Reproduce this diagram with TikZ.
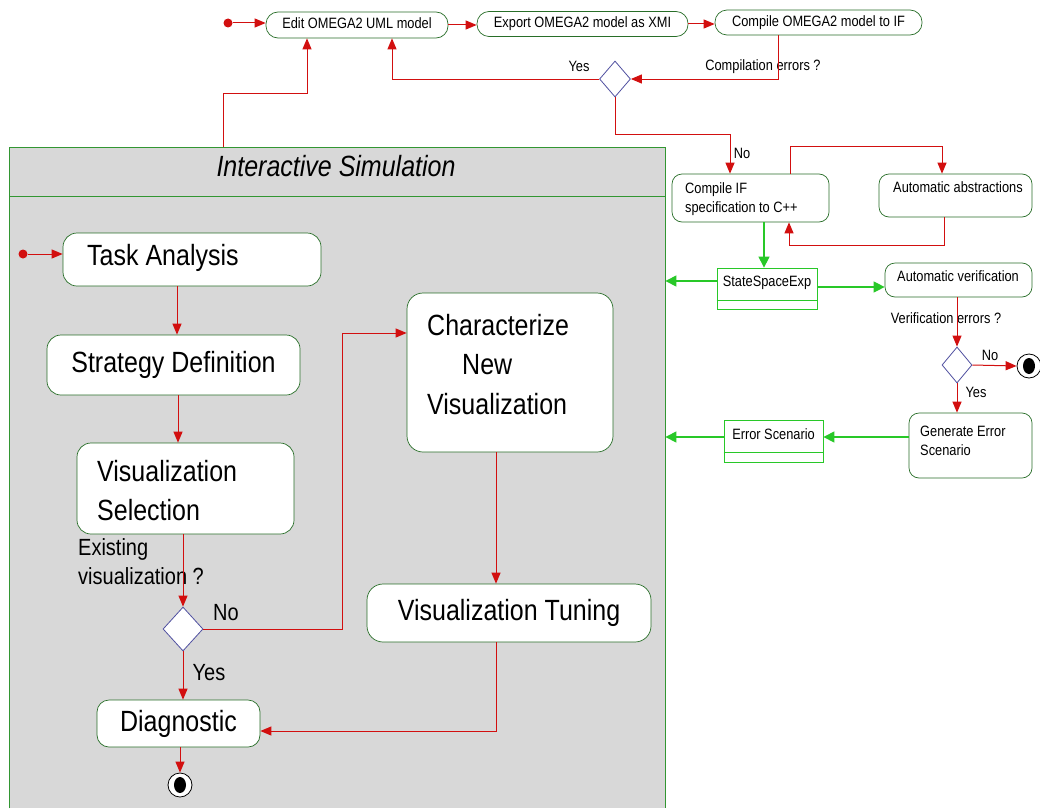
\documentclass[tikz,border=0pt]{standalone}
\usepackage{fontspec}
\setmainfont{Liberation Sans}
\usetikzlibrary{arrows.meta,shapes.geometric,calc}
\definecolor{lred}{RGB}{210,15,15}
\definecolor{bgreen}{RGB}{40,200,40}
\definecolor{dgreen}{RGB}{40,110,40}
\definecolor{simgreen}{RGB}{50,150,50}
\definecolor{simgray}{RGB}{216,216,216}
\definecolor{dblue}{RGB}{80,80,160}
\newcommand{\VS}[2][l]{\scalebox{1}[1.17]{\begin{tabular}{@{}#1@{}}#2\end{tabular}}}
\newcommand{\bigtxt}{\fontsize{25}{34}\selectfont}
\newcommand{\midtxt}{\fontsize{20}{25}\selectfont}
\newcommand{\smalltxt}{\fontsize{12.8}{17}\selectfont}
\begin{document}
\begin{tikzpicture}[x=1pt,y=-1pt,
  redline/.style={draw=lred, line width=1pt},
  rarr/.style={redline, -{Triangle[length=11pt,width=9pt]}},
  garr/.style={draw=bgreen, line width=1.2pt, -{Triangle[length=11pt,width=11pt]}},
  actbox/.style={draw=dgreen, fill=white, line width=0.7pt, inner sep=0pt, rounded corners=#1},
  actbox/.default=12pt,
  objbox/.style={draw=bgreen, fill=white, line width=0.8pt, inner sep=0pt},
  decision/.style={diamond, draw=dblue, fill=white, line width=0.8pt, inner sep=0pt},
  txt/.style={inner sep=0pt, text=black},
  sm/.style={txt, font=\smalltxt},
  md/.style={txt, font=\midtxt},
  bg/.style={txt, font=\bigtxt},
  startdot/.style={circle, fill=lred, inner sep=0pt, minimum size=9pt},
  enddot/.style={circle, draw=black, fill=white, line width=0.8pt, minimum size=24pt, inner sep=0pt,
    path picture={\fill[black] (path picture bounding box.center) ellipse (6pt and 8pt);}}
]
\useasboundingbox (0,0) rectangle (1040,808);
\fill[white] (0,0) rectangle (1040,808);

% ---------- Interactive Simulation container ----------
\node[fill=simgray, inner sep=0pt, minimum width=656pt, minimum height=661pt, anchor=north west] (sim) at (9,147) {};
\draw[simgreen, line width=0.9pt] (sim.south west) -- (sim.north west) -- (sim.north east) -- (sim.south east);
\draw[simgreen, line width=0.9pt] (sim.west |- 0,196) -- (sim.east |- 0,196);
\node[bg, font=\bigtxt\itshape] (simtitle) at (336,169) {\VS[c]{Interactive Simulation}};

% ---------- top row ----------
\node[startdot] (start1) at (228,23) {};
\node[actbox=12pt, font=\smalltxt, minimum width=182pt, minimum height=26pt] (edit) at (357,25) {\VS[c]{Edit OMEGA2 UML model}};
\node[actbox=12pt, font=\smalltxt, minimum width=211pt, minimum height=25pt] (export) at (582.5,24) {\VS[c]{Export OMEGA2 model as XMI}};
\node[actbox=12pt, font=\smalltxt, minimum width=207pt, minimum height=25pt] (cmpomega) at (818.5,22.5) {\VS[c]{Compile OMEGA2 model to IF}};
\node[decision, minimum width=31pt, minimum height=36pt] (d1) at (615,79) {};
\node[sm] (lyes1) at (579,68) {\VS{Yes}};
\node[sm] (lcomperr) at (763,67) {\VS{Compilation errors ?}};

% ---------- right column ----------
\node[actbox=10pt, minimum width=157pt, minimum height=48pt] (cmpif) at (750.5,198) {};
\node[sm, anchor=west] (cmpiftxt) at (685,199) {\VS{Compile IF\\specification to C++}};
\node[sm] (lno1) at (742,155) {\VS{No}};
\node[actbox=10pt, minimum width=153pt, minimum height=43pt] (abst) at (955.5,195.5) {};
\node[sm, anchor=west] (absttxt) at (893,189) {\VS{Automatic abstractions}};

\node[objbox, minimum width=100pt, minimum height=41pt] (sse) at (767,288.5) {};
\draw[bgreen, line width=0.8pt] (sse.west |- 0,300) -- (sse.east |- 0,300);
\node[sm] (ssetxt) at (767,283) {\VS{StateSpaceExp}};

\node[actbox=10pt, minimum width=147pt, minimum height=34pt] (av) at (958.5,280) {};
\node[sm, anchor=west] (avtxt) at (897,278) {\VS{Automatic verification}};
\node[sm] (lverr) at (946,320) {\VS{Verification errors ?}};
\node[decision, minimum width=30pt, minimum height=36pt] (d2) at (957,365) {};
\node[enddot] (end2) at (1029,366) {};
\node[sm] (lno2) at (990,357) {\VS{No}};
\node[sm] (lyes2) at (976,394) {\VS{Yes}};

\node[actbox=10pt, minimum width=123pt, minimum height=65pt] (ges) at (970.5,445.5) {};
\node[sm, anchor=west] (gestxt) at (920,442) {\VS{Generate Error\\Scenario}};

\node[objbox, minimum width=99pt, minimum height=42pt] (errs) at (773.5,441) {};
\draw[bgreen, line width=0.8pt] (errs.west |- 0,452) -- (errs.east |- 0,452);
\node[sm] (errstxt) at (773.5,436) {\VS{Error Scenario}};

% ---------- simulation content ----------
\node[startdot] (start2) at (23,254) {};
\node[actbox=14pt, minimum width=258pt, minimum height=53pt] (task) at (192,259.5) {};
\node[bg, anchor=west] (tasktxt) at (87,258) {\VS{Task Analysis}};
\node[actbox=14pt, font=\bigtxt, minimum width=253pt, minimum height=60pt] (strat) at (173.5,365) {\VS[c]{Strategy Definition}};
\node[actbox=14pt, minimum width=217pt, minimum height=91pt] (vsel) at (185.5,488.5) {};
\node[bg, anchor=west] (vseltxt) at (97,493) {\VS{Visualization\\Selection}};
\node[md, anchor=west] (lexist) at (78,564) {\VS{Existing\\visualization ?}};
\node[decision, minimum width=40pt, minimum height=44pt] (d3) at (183,629) {};
\node[md] (lno3) at (226,615) {\VS{No}};
\node[md] (lyes3) at (209,675) {\VS{Yes}};
\node[actbox=12pt, font=\bigtxt, minimum width=163pt, minimum height=47pt] (diag) at (178.5,723.5) {\VS[c]{Diagnostic}};
\node[enddot] (end1) at (180,785) {};

\node[actbox=16pt, minimum width=206pt, minimum height=159pt] (charz) at (510,372.5) {};
\node[bg, anchor=west] (charz1) at (427,328) {\VS{Characterize}};
\node[bg, anchor=west] (charz2) at (462,367) {\VS{New}};
\node[bg, anchor=west] (charz3) at (427,407) {\VS{Visualization}};
\node[actbox=16pt, font=\bigtxt, minimum width=284pt, minimum height=58pt] (tune) at (509,613) {\VS[c]{Visualization Tuning}};

% ---------- red connectors ----------
\draw[rarr] (start1.east) -- (start1 -| edit.west);
\draw[rarr] (edit.east) -- (edit.east -| export.west);
\draw[rarr] (export.east) -- (export.east -| cmpomega.west);
\draw[rarr] (778,0 |- cmpomega.south) |- (d1.east);
\draw[rarr] (d1.west) -| (392,0 |- edit.south);
\coordinate (simexit) at (223,0 |- sim.north);
\coordinate (editin) at (307,0 |- edit.south);
\draw[rarr] (simexit) |- (307,93) -- (editin);
\draw[rarr] (d1.south) |- (730,134) -- (730,0 |- cmpif.north);
\draw[rarr] (790,0 |- cmpif.north) |- (942,146) -- (942,0 |- abst.north);
\draw[rarr] (944,0 |- abst.south) |- (789,245) -- (789,0 |- cmpif.south);
\draw[rarr] (av.south -| d2.north) -- (d2.north);
\draw[rarr] (d2.east) -- (end2.west);
\draw[rarr] (d2.south) -- (d2.south |- ges.north);

\draw[rarr] (start2.east) -- (start2 -| task.west);
\draw[rarr] (177,0 |- task.south) -- (177,0 |- strat.north);
\draw[rarr] (178,0 |- strat.south) -- (178,0 |- vsel.north);
\draw[rarr] (vsel.south -| d3.north) -- (d3.north);
\draw[rarr] (d3.east) -| (342,333) -- (charz.west |- 342,333);
\draw[rarr] (d3.south) -- (d3.south |- diag.north);
\draw[rarr] (496,0 |- charz.south) -- (496,0 |- tune.north);
\draw[rarr] (496,0 |- tune.south) |- (diag.east |- 0,731);
\draw[rarr] (diag.south -| end1.north) -- (end1.north);

% ---------- green connectors ----------
\draw[garr] (764,0 |- cmpif.south) -- (764,0 |- sse.north);
\draw[garr] (sse.west |- 0,281) -- (sim.east |- 0,281);
\draw[garr] (sse.east |- 0,287) -- (av.west |- 0,287);
\draw[garr] (ges.west |- 0,437) -- (errs.east |- 0,437);
\draw[garr] (errs.west |- 0,437) -- (sim.east |- 0,437);
\end{tikzpicture}
\end{document}
